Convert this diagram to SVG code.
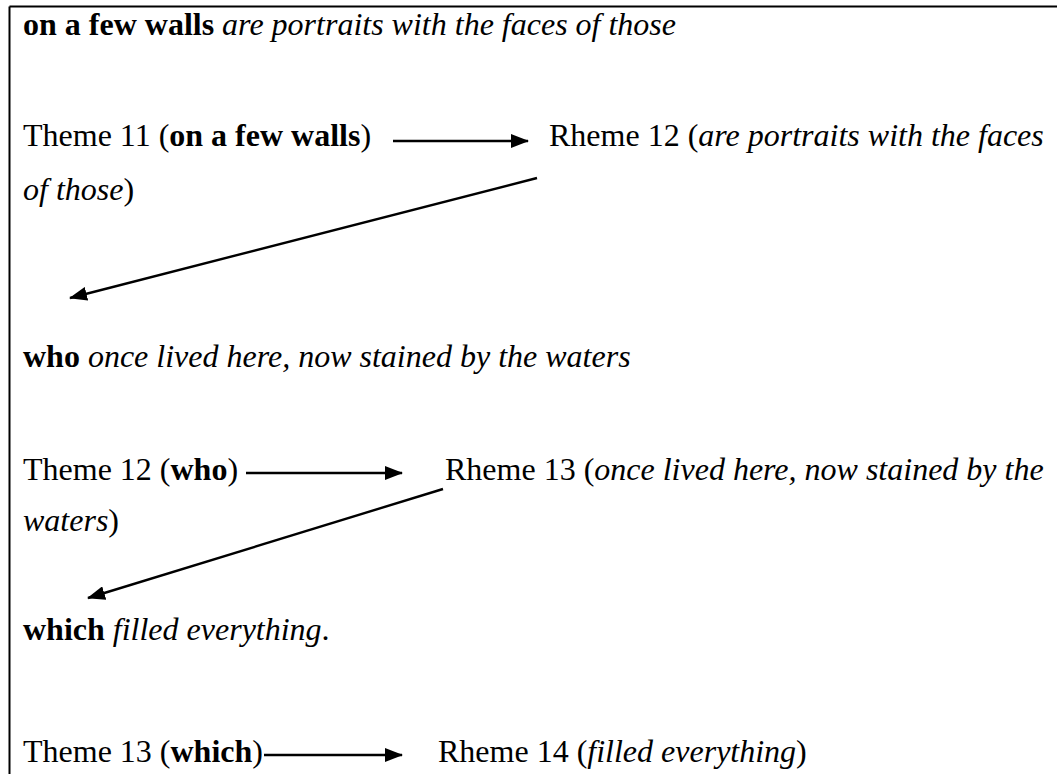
<svg xmlns="http://www.w3.org/2000/svg" width="1057" height="774" viewBox="0 0 1057 774">
<style>
text{font-family:"Liberation Serif","Times New Roman",serif;font-size:32px;fill:#000}
.b{font-weight:bold}
.i{font-style:italic}
.frame{stroke:#000;stroke-width:2;fill:none}
.conn{stroke:#000;stroke-width:2.4;fill:none;marker-end:url(#ah)}
</style>
<defs>
<marker id="ah" markerUnits="userSpaceOnUse" markerWidth="18" markerHeight="14" refX="17" refY="7" orient="auto">
<path d="M0,0 L18,7 L0,14 Z" fill="#000"/>
</marker>
</defs>
<rect width="1057" height="774" fill="#fff"/>
<g id="frame">
<line class="frame" x1="9.5" y1="6.5" x2="1057" y2="6.5"/>
<line class="frame" x1="9.5" y1="6.5" x2="9.5" y2="774"/>
</g>
<g id="sentence1"><text x="23" y="35"><tspan class="b">on a few walls</tspan><tspan class="i"> are portraits with the faces of those</tspan></text></g>
<g id="theme11"><text x="23" y="146">Theme 11 (<tspan class="b">on a few walls</tspan>)</text></g>
<g id="rheme12"><text x="549" y="146">Rheme 12 (<tspan class="i">are portraits with the faces</tspan></text>
<text x="23" y="200"><tspan class="i">of those</tspan>)</text></g>
<g id="sentence2"><text x="23" y="367"><tspan class="b">who</tspan><tspan class="i"> once lived here, now stained by the waters</tspan></text></g>
<g id="theme12"><text x="23" y="480">Theme 12 (<tspan class="b">who</tspan>)</text></g>
<g id="rheme13"><text x="445" y="480">Rheme 13 (<tspan class="i">once lived here, now stained by the</tspan></text>
<text x="23" y="531"><tspan class="i">waters</tspan>)</text></g>
<g id="sentence3"><text x="23" y="640"><tspan class="b">which</tspan><tspan class="i"> filled everything</tspan>.</text></g>
<g id="theme13"><text x="23" y="762">Theme 13 (<tspan class="b">which</tspan>)</text></g>
<g id="rheme14"><text x="438" y="762">Rheme 14 (<tspan class="i">filled everything</tspan>)</text></g>
<g id="connectors">
<line class="conn" x1="393" y1="141" x2="528" y2="141"/>
<line class="conn" x1="537" y1="178" x2="70" y2="298"/>
<line class="conn" x1="246" y1="473" x2="402" y2="473"/>
<line class="conn" x1="443" y1="489" x2="88" y2="598"/>
<line class="conn" x1="264" y1="755" x2="402" y2="755"/>
</g>
</svg>
